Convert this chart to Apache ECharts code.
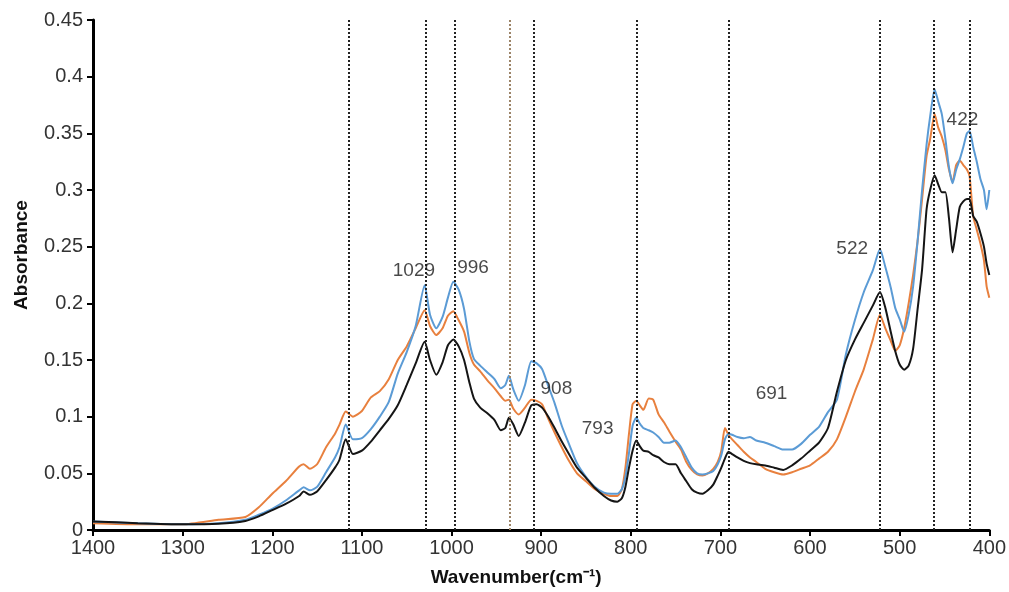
<!DOCTYPE html>
<html>
<head>
<meta charset="utf-8">
<title>Absorbance spectra</title>
<script src="https://cdn.jsdelivr.net/npm/echarts@6/dist/echarts.min.js"></script>
<style>
  html, body { margin: 0; padding: 0; background: #fff; }
  #chart { width: 1009px; height: 592px; }
</style>
</head>
<body>
<div id="chart"></div>
<script>
// Wavenumber grid (cm-1) shared by the three spectra
const wavenumbers = [1400, 1350, 1300, 1260, 1230, 1215, 1200, 1185, 1170, 1165, 1158, 1150, 1140, 1130, 1125, 1118, 1110, 1100, 1090, 1080, 1070, 1060, 1050, 1040, 1030, 1024, 1017, 1010, 1004, 998, 992, 986, 980, 975, 968, 960, 952, 945, 940, 936, 931, 925, 918, 911, 905, 899, 892, 885, 877, 869, 860, 850, 840, 830, 822, 815, 810, 806, 802, 798, 794, 790, 786, 780, 775, 769, 763, 757, 750, 744, 738, 732, 726, 720, 714, 708, 703, 699, 695, 691, 687, 681, 674, 667, 660, 650, 640, 630, 620, 610, 600, 590, 580, 570, 560, 550, 540, 530, 522, 516, 510, 505, 500, 495, 490, 485, 480, 475, 470, 466, 461, 457, 453, 449, 445, 441, 437, 433, 429, 425, 422, 418, 414, 410, 406, 403, 400];

const absBlack = [0.0076, 0.006, 0.005, 0.0055, 0.008, 0.012, 0.0175, 0.023, 0.030, 0.034, 0.031, 0.034, 0.044, 0.055, 0.062, 0.080, 0.067, 0.070, 0.078, 0.088, 0.098, 0.110, 0.128, 0.147, 0.166, 0.150, 0.137, 0.148, 0.163, 0.168, 0.162, 0.150, 0.130, 0.116, 0.108, 0.103, 0.097, 0.088, 0.090, 0.099, 0.093, 0.083, 0.095, 0.110, 0.111, 0.108, 0.100, 0.090, 0.078, 0.067, 0.055, 0.046, 0.037, 0.030, 0.026, 0.025, 0.028, 0.038, 0.055, 0.070, 0.079, 0.074, 0.070, 0.069, 0.066, 0.064, 0.060, 0.058, 0.058, 0.050, 0.043, 0.036, 0.033, 0.032, 0.035, 0.040, 0.048, 0.055, 0.063, 0.069, 0.067, 0.064, 0.061, 0.059, 0.058, 0.057, 0.055, 0.053, 0.057, 0.063, 0.070, 0.077, 0.090, 0.122, 0.150, 0.168, 0.183, 0.198, 0.210, 0.196, 0.175, 0.158, 0.146, 0.1415, 0.145, 0.160, 0.195, 0.230, 0.283, 0.300, 0.313, 0.305, 0.298, 0.298, 0.275, 0.245, 0.265, 0.285, 0.290, 0.292, 0.292, 0.277, 0.272, 0.262, 0.250, 0.235, 0.225];

const absOrange = [0.006, 0.005, 0.005, 0.009, 0.0115, 0.020, 0.032, 0.043, 0.056, 0.058, 0.054, 0.058, 0.073, 0.085, 0.093, 0.1045, 0.100, 0.105, 0.117, 0.1225, 0.133, 0.150, 0.162, 0.178, 0.194, 0.180, 0.172, 0.178, 0.189, 0.193, 0.185, 0.175, 0.156, 0.146, 0.140, 0.132, 0.125, 0.118, 0.114, 0.115, 0.107, 0.102, 0.108, 0.115, 0.114, 0.111, 0.098, 0.086, 0.073, 0.061, 0.050, 0.043, 0.036, 0.032, 0.030, 0.030, 0.036, 0.055, 0.085, 0.111, 0.114, 0.110, 0.106, 0.116, 0.115, 0.102, 0.095, 0.087, 0.078, 0.071, 0.060, 0.053, 0.049, 0.048, 0.050, 0.054, 0.060, 0.070, 0.090, 0.084, 0.080, 0.075, 0.069, 0.064, 0.060, 0.054, 0.051, 0.049, 0.051, 0.054, 0.057, 0.063, 0.069, 0.080, 0.100, 0.122, 0.142, 0.168, 0.190, 0.178, 0.167, 0.158, 0.163, 0.178, 0.200, 0.225, 0.255, 0.292, 0.330, 0.345, 0.367, 0.355, 0.347, 0.335, 0.318, 0.307, 0.322, 0.326, 0.322, 0.318, 0.312, 0.277, 0.265, 0.253, 0.238, 0.215, 0.205];

const absBlue = [0.0075, 0.006, 0.005, 0.006, 0.009, 0.0135, 0.0187, 0.026, 0.035, 0.0377, 0.035, 0.038, 0.051, 0.064, 0.073, 0.093, 0.080, 0.081, 0.089, 0.100, 0.113, 0.138, 0.157, 0.180, 0.216, 0.190, 0.178, 0.188, 0.205, 0.219, 0.212, 0.195, 0.166, 0.151, 0.145, 0.139, 0.133, 0.125, 0.128, 0.136, 0.124, 0.114, 0.128, 0.149, 0.147, 0.142, 0.127, 0.112, 0.092, 0.076, 0.059, 0.047, 0.038, 0.033, 0.032, 0.032, 0.036, 0.047, 0.068, 0.092, 0.099, 0.094, 0.090, 0.088, 0.086, 0.082, 0.077, 0.077, 0.079, 0.073, 0.064, 0.055, 0.050, 0.049, 0.050, 0.052, 0.058, 0.066, 0.080, 0.085, 0.084, 0.082, 0.081, 0.082, 0.079, 0.077, 0.074, 0.071, 0.071, 0.076, 0.084, 0.091, 0.104, 0.115, 0.155, 0.185, 0.210, 0.229, 0.248, 0.232, 0.214, 0.196, 0.186, 0.175, 0.190, 0.215, 0.255, 0.300, 0.340, 0.365, 0.389, 0.378, 0.367, 0.345, 0.320, 0.306, 0.318, 0.327, 0.338, 0.350, 0.352, 0.338, 0.325, 0.310, 0.300, 0.283, 0.300];

// Band positions marked with dotted guide lines
const bandLines = [1115, 1029, 996, 908, 793, 691, 522, 462, 422];
const bandLineOrange = [935];

// Peak annotations: text and where it sits (wavenumber, absorbance)
const peakText = ['1029', '996', '908', '793', '691', '522', '422'];
const peakWn = [1042, 976, 883, 837, 643, 553, 430];
const peakAbs = [0.229, 0.231, 0.125, 0.089, 0.120, 0.248, 0.362];

const pairs = ys => wavenumbers.map((w, i) => [w, ys[i]]);

const chart = echarts.init(document.getElementById('chart'));
const fontFam = '"Liberation Sans", Arial, sans-serif';

chart.setOption({
  animation: false,
  backgroundColor: '#fff',
  grid: { left: 93, right: 18, top: 20, bottom: 59, containLabel: false },
  xAxis: {
    type: 'value',
    inverse: true,
    min: 400,
    max: 1400,
    interval: 100,
    name: 'Wavenumber(cm\u207B\u00B9)',
    nameLocation: 'middle',
    nameGap: 38,
    nameTextStyle: { fontFamily: fontFam, fontSize: 19, fontWeight: 'bold', color: '#111', padding: [0, 50, 0, 0] },
    axisLine: { show: true, onZero: false, lineStyle: { color: '#000', width: 3 } },
    axisTick: { show: true, length: 6, lineStyle: { color: '#000', width: 2 } },
    axisLabel: { fontFamily: fontFam, fontSize: 20, color: '#333', margin: 8, formatter: v => String(v) },
    splitLine: { show: false }
  },
  yAxis: {
    type: 'value',
    min: 0,
    max: 0.45,
    interval: 0.05,
    name: 'Absorbance',
    nameLocation: 'middle',
    nameGap: 62,
    nameTextStyle: { fontFamily: fontFam, fontSize: 19, fontWeight: 'bold', color: '#111', padding: [0, 0, 0, 40] },
    axisLine: { show: true, lineStyle: { color: '#000', width: 3 } },
    axisTick: { show: true, length: 6, lineStyle: { color: '#000', width: 2 } },
    axisLabel: { fontFamily: fontFam, fontSize: 20, color: '#333', margin: 10 },
    splitLine: { show: false }
  },
  series: [
    {
      name: 'orange',
      type: 'line',
      data: pairs(absOrange),
      showSymbol: false,
      smooth: 0.2,
      lineStyle: { color: '#E8803E', width: 2 },
      z: 2,
      markLine: {
        silent: true,
        symbol: 'none',
        label: { show: false },
        lineStyle: { type: 'dotted', color: '#9c8468', width: 2 },
        data: bandLineOrange.map(v => ({ xAxis: v }))
      }
    },
    {
      name: 'blue',
      type: 'line',
      data: pairs(absBlue),
      showSymbol: false,
      smooth: 0.2,
      lineStyle: { color: '#5B9BD5', width: 2 },
      z: 3
    },
    {
      name: 'black',
      type: 'line',
      data: pairs(absBlack),
      showSymbol: false,
      smooth: 0.2,
      lineStyle: { color: '#151515', width: 2 },
      z: 4,
      markLine: {
        silent: true,
        symbol: 'none',
        label: { show: false },
        lineStyle: { type: 'dotted', color: '#222', width: 2 },
        data: bandLines.map(v => ({ xAxis: v }))
      }
    },
    {
      name: 'peaks',
      type: 'scatter',
      symbolSize: 0,
      silent: true,
      z: 5,
      data: peakText.map((t, i) => ({ name: t, value: [peakWn[i], peakAbs[i]] })),
      label: {
        show: true,
        position: 'inside',
        formatter: p => p.name,
        fontFamily: fontFam,
        fontSize: 19,
        color: '#1a1a1a'
      }
    }
  ]
});
</script>
</body>
</html>
